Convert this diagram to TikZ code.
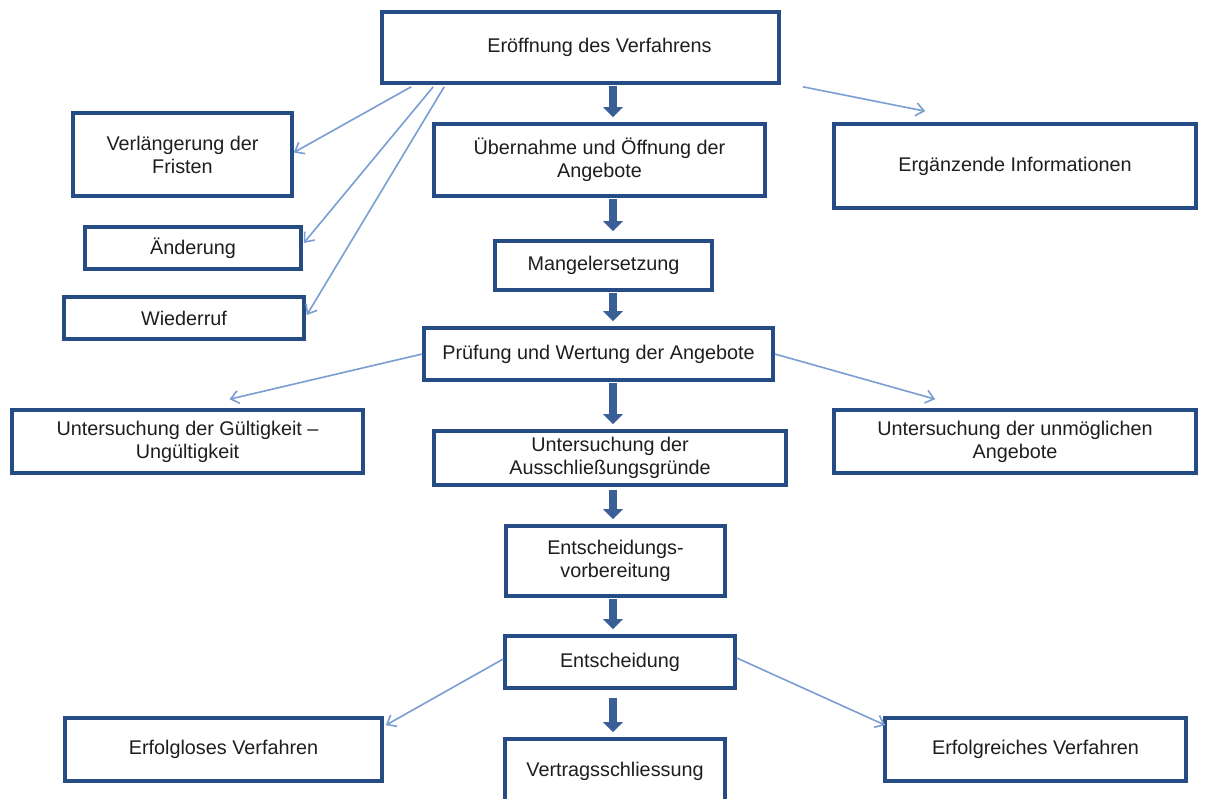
\documentclass[tikz,border=0pt]{standalone}
\usepackage{fontspec}
\setmainfont{Liberation Sans}
\usetikzlibrary{arrows.meta}
\definecolor{boxblue}{RGB}{38,76,134}
\definecolor{thickblue}{RGB}{58,94,150}
\definecolor{thinblue}{RGB}{122,158,210}
\definecolor{txt}{RGB}{30,30,30}
\tikzset{
  box/.style={draw=boxblue, line width=3.6pt, fill=white, inner sep=2pt, align=center,
    text=txt, font=\fontsize{19.8}{23}\selectfont},
  mainflow/.style={draw=thickblue, line width=7.5pt,
    -{Triangle[length=10pt,width=19pt]}, shorten >=5pt, shorten <=1pt},
  sideflow/.style={draw=thinblue, line width=1.6pt,
    -{Straight Barb[length=8pt,width=13pt,line width=1.6pt]}}
}
\begin{document}
\begin{tikzpicture}[x=1pt,y=-1pt]
\useasboundingbox (0,0) rectangle (1214,799);
\fill[white] (0,0) rectangle (1214,799);

\node[box, minimum width=397pt, minimum height=71pt] (eroeff) at (580.5,47.5) {\hspace*{38pt}Eröffnung des Verfahrens};
\node[box, minimum width=219pt, minimum height=83pt] (verl) at (182.5,154.5) {Verlängerung der\\Fristen};
\node[box, minimum width=331pt, minimum height=72pt] (uebern) at (599.5,160) {Übernahme und Öffnung der\\Angebote};
\node[box, minimum width=362pt, minimum height=84pt] (ergaenz) at (1015,166) {Ergänzende Informationen};
\node[box, minimum width=216pt, minimum height=42pt] (aend) at (193,248) {Änderung};
\node[box, minimum width=217pt, minimum height=49pt] (mangel) at (603.5,265.5) {Mangelersetzung};
\node[box, minimum width=240pt, minimum height=42pt] (wider) at (184,318) {Wiederruf};
\node[box, minimum width=349pt, minimum height=52pt] (pruef) at (598.5,354) {Prüfung und Wertung der Angebote};
\node[box, minimum width=351pt, minimum height=63pt] (gueltig) at (187.5,441.5) {Untersuchung der Gültigkeit –\\Ungültigkeit};
\node[box, minimum width=352pt, minimum height=54pt] (aussch) at (610,458) {Untersuchung der\\Ausschließungsgründe};
\node[box, minimum width=362pt, minimum height=63pt] (unmoegl) at (1015,441.5) {Untersuchung der unmöglichen\\Angebote};
\node[box, minimum width=219pt, minimum height=70pt] (vorber) at (615.5,561) {Entscheidungs-\\vorbereitung};
\node[box, minimum width=230pt, minimum height=52pt] (entsch) at (620,662) {Entscheidung};
\node[box, minimum width=317pt, minimum height=63pt] (erfolglos) at (223.5,749.5) {Erfolgloses Verfahren};
\node[box, minimum width=220pt, minimum height=64pt] (vertrag) at (615,771) {Vertragsschliessung};
\node[box, minimum width=301pt, minimum height=63pt] (erfolgreich) at (1035.5,749.5) {Erfolgreiches Verfahren};

\coordinate (col) at (613,0);
\draw[mainflow] (eroeff.south -| col) -- (uebern.north -| col);
\draw[mainflow] (uebern.south -| col) -- ([yshift=3pt]mangel.north -| col);
\draw[mainflow] (mangel.south -| col) -- (pruef.north -| col);
\draw[mainflow] (pruef.south -| col) -- (aussch.north -| col);
\draw[mainflow] ([yshift=-2pt]aussch.south -| col) -- (vorber.north -| col);
\draw[mainflow] (vorber.south -| col) -- (entsch.north -| col);
\draw[mainflow] ([yshift=-7pt]entsch.south -| col) -- (vertrag.north -| col);

\draw[sideflow] ([xshift=31pt,yshift=-2pt]eroeff.south west) -- ([yshift=2pt]verl.east);
\draw[sideflow] ([xshift=53pt,yshift=-2pt]eroeff.south west) -- ([xshift=1pt,yshift=5pt]aend.east);
\draw[sideflow] ([xshift=64pt,yshift=-2pt]eroeff.south west) -- ([xshift=1pt,yshift=3pt]wider.east);
\draw[sideflow] ([xshift=22pt,yshift=-2pt]eroeff.south east) -- ([xshift=93pt,yshift=11pt]ergaenz.north west);
\draw[sideflow] (pruef.west) -- ([xshift=42pt,yshift=9pt]gueltig.north);
\draw[sideflow] (pruef.east) -- ([xshift=103pt,yshift=9pt]unmoegl.north west);
\draw[sideflow] ([yshift=3pt]entsch.west) -- ([xshift=2pt,yshift=-9pt]erfolglos.north east);
\draw[sideflow] ([yshift=4pt]entsch.east) -- ([xshift=2pt,yshift=-9pt]erfolgreich.north west);
\end{tikzpicture}
\end{document}
